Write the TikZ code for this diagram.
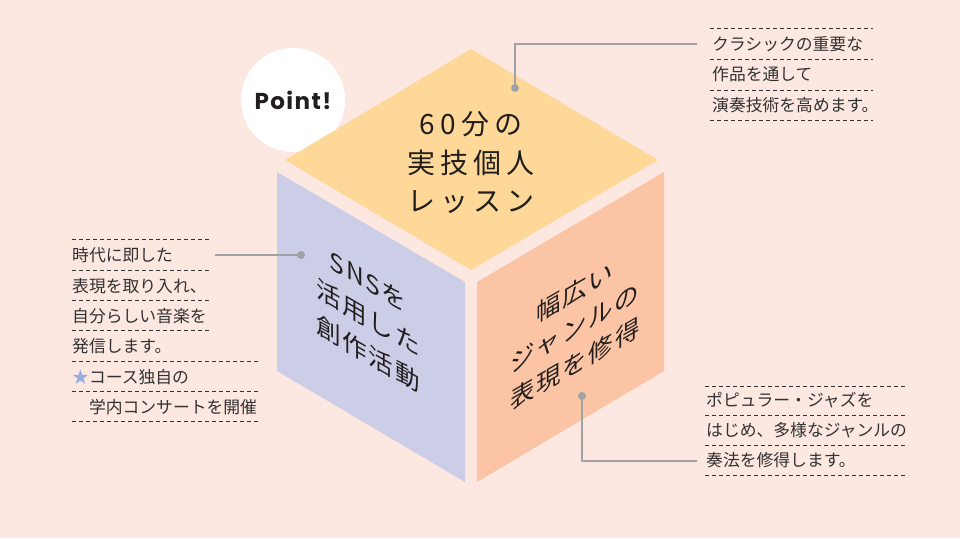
\documentclass[tikz,border=0pt]{standalone}
\usepackage{fontspec}
\setmainfont{Noto Sans CJK JP}
\newfontfamily\cubefont[LetterSpace=18]{Noto Sans CJK JP}
\newfontfamily\sidefont[LetterSpace=7]{Noto Sans CJK JP}
\newfontfamily\pointfont[LetterSpace=6]{Poppins}
\definecolor{bgpink}{RGB}{252,232,225}
\definecolor{topyellow}{RGB}{253,216,152}
\definecolor{leftlilac}{RGB}{204,206,232}
\definecolor{rightpeach}{RGB}{251,196,164}
\definecolor{inkdark}{RGB}{35,30,30}
\definecolor{textgray}{RGB}{50,50,50}
\definecolor{leadgray}{RGB}{160,162,165}
\definecolor{starblue}{RGB}{150,175,225}
\usetikzlibrary{positioning}

\begin{document}
\begin{tikzpicture}[
  x=1pt, y=-1pt,
  facetext/.style={align=center,text=inkdark,inner sep=0pt},
  note/.style={anchor=west,inner sep=0pt,text=textgray,
               font=\fontsize{16.8}{20}\selectfont},
  rule/.style={textgray,line width=0.9pt,dash pattern=on 4pt off 3pt},
  lead/.style={leadgray,line width=1.8pt},
  leaddot/.style={circle,fill=leadgray,inner sep=0pt,minimum size=8pt},
]
  % Background
  \fill[bgpink] (0,0) rectangle (960,538);
  \useasboundingbox (0,0) rectangle (960,538);

  % Point! badge (behind the cube)
  \node[circle,fill=white,minimum size=104pt,inner sep=0pt,text=inkdark,
        font=\pointfont\bfseries\fontsize{23}{23}\selectfont]
    (badge) at (293,100) {Point!};

  % Cube faces
  \fill[topyellow] (285,160) -- (471,49) -- (658,160) -- (471,270) -- cycle;
  \fill[leftlilac] (277,172) -- (465,282) -- (465,482) -- (277,371) -- cycle;
  \fill[rightpeach] (477,282) -- (664,172) -- (664,371) -- (477,482) -- cycle;

  % Face texts
  \node[facetext,font=\cubefont\fontsize{28}{38.5}\selectfont]
    (toptext) at (471,163) {60分の\\実技個人\\レッスン};
  \node[facetext,yslant=-0.58,font=\sidefont\fontsize{24.5}{36}\selectfont]
    (lefttext) at (368,318) {SNSを\\活用した\\創作活動};
  \node[facetext,yslant=0.58,font=\sidefont\fontsize{24.5}{36}\selectfont]
    (righttext) at (575,328) {幅広い\\ジャンルの\\表現を修得};

  % Top-right note
  \foreach \y in {28,59,90,120}
    \draw[rule] (710,\y) -- (873,\y);
  \node[note] (cl1) at (712,44) {クラシックの重要な};
  \node[note] (cl2) at (712,74.5) {作品を通して};
  \node[note] (cl3) at (712,105) {演奏技術を高めます。};

  % Left note
  \foreach \y in {239,270,300,330}
    \draw[rule] (72,\y) -- (209,\y);
  \foreach \y in {361,391,421}
    \draw[rule] (72,\y) -- (260,\y);
  \node[note] (sn1) at (72,255.5) {時代に即した};
  \node[note] (sn2) at (72,286) {表現を取り入れ、};
  \node[note] (sn3) at (72,316) {自分らしい音楽を};
  \node[note] (sn4) at (72,346) {発信します。};
  \node[note] (sn5) at (72,377) {\textcolor{starblue}{★}コース独自の};
  \node[note] (sn6) at (72,407) {　学内コンサートを開催};

  % Bottom-right note
  \foreach \y in {386,415,445,475}
    \draw[rule] (705,\y) -- (908,\y);
  \node[note] (gn1) at (706,400.5) {ポピュラー・ジャズを};
  \node[note] (gn2) at (706,430) {はじめ、多様なジャンルの};
  \node[note] (gn3) at (706,460) {奏法を修得します。};

  % Leader lines
  \node[leaddot] (dtop) at (515,88) {};
  \node[leaddot] (dleft) at (301,255) {};
  \node[leaddot] (dright) at (582,396) {};
  \coordinate (etop) at (697,44);
  \coordinate (eleft) at (215,255);
  \coordinate (eright) at (697,461);
  \draw[lead] (dtop.center) |- (etop);
  \draw[lead] (dleft.center) -- (eleft);
  \draw[lead] (dright.center) |- (eright);
\end{tikzpicture}
\end{document}
